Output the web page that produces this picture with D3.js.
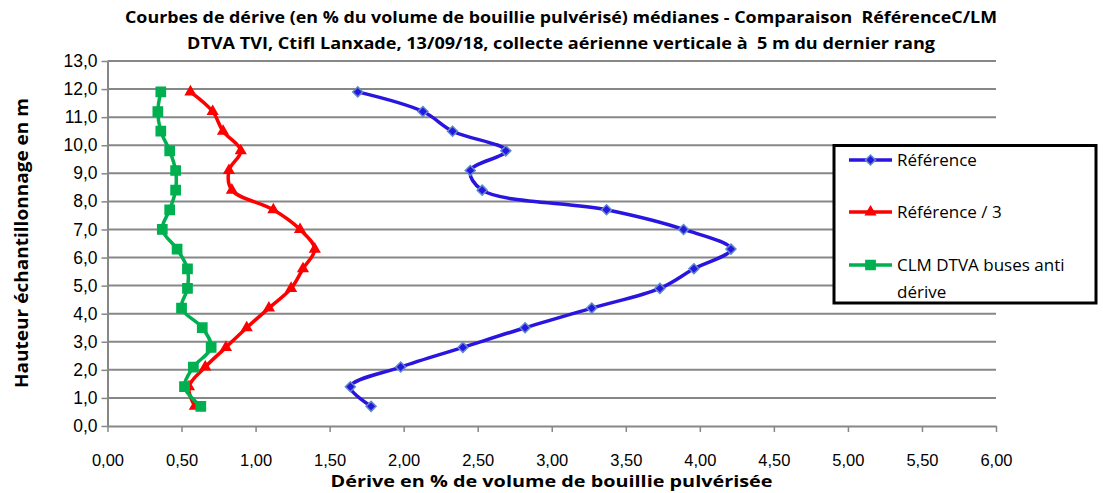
<!DOCTYPE html>
<html>
<head>
<meta charset="utf-8">
<script src="https://cdn.jsdelivr.net/npm/d3@7"></script>
<style>
  body { margin: 0; background: #fff; }
  svg { display: block; font-family: "Open Sans", sans-serif; }
  text { white-space: pre; }
</style>
</head>
<body>
<div id="chart"></div>
<script>
// hauteurs d'echantillonnage (m)
var hauteurs = [0.7, 1.4, 2.1, 2.8, 3.5, 4.2, 4.9, 5.6, 6.3, 7.0, 7.7, 8.4, 9.1, 9.8, 10.5, 11.2, 11.9];

// derive en % du volume pulverise
var reference = [1.78, 1.64, 1.98, 2.40, 2.82, 3.27, 3.73, 3.96, 4.21, 3.89, 3.37, 2.53, 2.45, 2.69, 2.33, 2.13, 1.69];
var referenceTiers = [0.59, 0.55, 0.66, 0.80, 0.94, 1.09, 1.24, 1.32, 1.40, 1.30, 1.12, 0.84, 0.82, 0.90, 0.78, 0.71, 0.56];
var clmDtva = [0.63, 0.52, 0.58, 0.70, 0.64, 0.50, 0.54, 0.54, 0.47, 0.37, 0.42, 0.46, 0.46, 0.42, 0.36, 0.34, 0.36];

var xTicks = [0, 0.5, 1, 1.5, 2, 2.5, 3, 3.5, 4, 4.5, 5, 5.5, 6];
var yTicks = [0, 1, 2, 3, 4, 5, 6, 7, 8, 9, 10, 11, 12, 13];

var titre1 = "Courbes de dérive (en % du volume de bouillie pulvérisé) médianes - Comparaison  RéférenceC/LM";
var titre2 = "DTVA TVI, Ctifl Lanxade, 13/09/18, collecte aérienne verticale à  5 m du dernier rang";
var titreX = "Dérive en % de volume de bouillie pulvérisée";
var titreY = "Hauteur échantillonnage en m";

var series = [
  { nom: "Référence", valeurs: reference, couleur: "#2a14e0", marque: d3.symbolSquare, rot: 45, bord: "#5b8ccc", taille: 50 },
  { nom: "Référence / 3", valeurs: referenceTiers, couleur: "#ff0000", marque: d3.symbolTriangle, rot: 0, bord: "#ff0000", taille: 40 },
  { nom: "CLM DTVA buses anti dérive", valeurs: clmDtva, couleur: "#00b050", marque: d3.symbolSquare, rot: 0, bord: "#00b050", taille: 85 }
];

var W = 1103, H = 493;
var margin = { top: 61, right: 107, bottom: 67, left: 107.5 };

var svg = d3.select("#chart").append("svg")
    .attr("width", W)
    .attr("height", H);

var x = d3.scaleLinear().domain([0, 6]).range([margin.left, W - margin.right]);
var y = d3.scaleLinear().domain([0, 13]).range([H - margin.bottom, margin.top]);

var gris = "#878787";

// grille horizontale
svg.append("g")
    .selectAll("line")
    .data(yTicks.slice(1))
    .join("line")
    .attr("x1", x(0))
    .attr("x2", x(6))
    .attr("y1", function(d) { return y(d); })
    .attr("y2", function(d) { return y(d); })
    .attr("stroke", gris)
    .attr("stroke-width", 2);

// axe x
var gx = svg.append("g")
    .attr("transform", "translate(0," + y(0) + ")")
    .call(d3.axisBottom(x).tickValues(xTicks).tickSize(6).tickSizeOuter(0)
      .tickFormat(function(d) { return d.toFixed(2).replace(".", ","); }));
gx.select(".domain").attr("stroke", gris).attr("stroke-width", 2);
gx.selectAll(".tick line").attr("stroke", gris).attr("stroke-width", 1.5);
gx.selectAll(".tick text")
    .attr("y", 34)
    .attr("dy", "0.35em")
    .attr("fill", "#000")
    .style("font-size", "16.5px");

// axe y
var gy = svg.append("g")
    .attr("transform", "translate(" + x(0) + ",0)")
    .call(d3.axisLeft(y).tickValues(yTicks).tickSize(6).tickSizeOuter(0)
      .tickFormat(function(d) { return d.toFixed(1).replace(".", ","); }));
gy.select(".domain").attr("stroke", gris).attr("stroke-width", 2);
gy.selectAll(".tick line").attr("stroke", gris).attr("stroke-width", 1.5);
gy.selectAll(".tick text")
    .attr("x", -10)
    .attr("fill", "#000")
    .style("font-size", "17.5px");

// courbes
var ligne = d3.line()
    .x(function(d) { return x(d[0]); })
    .y(function(d) { return y(d[1]); })
    .curve(d3.curveCatmullRom.alpha(0.5));

series.forEach(function(s) {
  var pts = s.valeurs.map(function(v, i) { return [v, hauteurs[i]]; });
  svg.append("path")
      .attr("d", ligne(pts))
      .attr("fill", "none")
      .attr("stroke", s.couleur)
      .attr("stroke-width", 3.5)
      .attr("stroke-linejoin", "round");
  svg.append("g")
      .selectAll("path")
      .data(pts)
      .join("path")
      .attr("transform", function(d) { return "translate(" + x(d[0]) + "," + y(d[1]) + ") rotate(" + s.rot + ")"; })
      .attr("d", d3.symbol().type(s.marque).size(s.taille))
      .attr("fill", s.couleur)
      .attr("stroke", s.bord)
      .attr("stroke-width", 1.5);
});

// legende
var leg = svg.append("g");
leg.append("rect")
    .attr("x", 834)
    .attr("y", 145.5)
    .attr("width", 262)
    .attr("height", 157.5)
    .attr("fill", "#fff")
    .attr("stroke", "#000")
    .attr("stroke-width", 3);

var legY = [160, 212, 265];
series.forEach(function(s, i) {
  var g = leg.append("g").attr("transform", "translate(0," + legY[i] + ")");
  g.append("line")
      .attr("x1", 849).attr("x2", 892)
      .attr("stroke", s.couleur)
      .attr("stroke-width", 3.5);
  g.append("path")
      .attr("transform", "translate(870.5,0) rotate(" + s.rot + ")")
      .attr("d", d3.symbol().type(s.marque).size(s.taille))
      .attr("fill", s.couleur)
      .attr("stroke", s.bord)
      .attr("stroke-width", 1.5);
  var t = g.append("text")
      .attr("x", 897)
      .attr("dy", "0.35em")
      .style("font-size", "17px")
      .attr("fill", "#000");
  if (i === 2) {
    t.text("CLM DTVA buses anti");
    g.append("text")
        .attr("x", 897)
        .attr("y", 27)
        .attr("dy", "0.35em")
        .style("font-size", "17px")
        .text("dérive");
  } else {
    t.text(s.nom);
  }
});

// titres
svg.append("text")
    .attr("x", 561).attr("y", 18).attr("dy", "0.35em")
    .attr("text-anchor", "middle")
    .style("font-size", "15.5px").style("font-weight", "bold")
    .attr("textLength", 872).attr("lengthAdjust", "spacingAndGlyphs")
    .text(titre1);
svg.append("text")
    .attr("x", 561).attr("y", 44).attr("dy", "0.35em")
    .attr("text-anchor", "middle")
    .style("font-size", "15.5px").style("font-weight", "bold")
    .attr("textLength", 748).attr("lengthAdjust", "spacingAndGlyphs")
    .text(titre2);
svg.append("text")
    .attr("x", 551.5).attr("y", 481).attr("dy", "0.35em")
    .attr("text-anchor", "middle")
    .style("font-size", "16px").style("font-weight", "bold")
    .attr("textLength", 442).attr("lengthAdjust", "spacingAndGlyphs")
    .text(titreX);
svg.append("text")
    .attr("transform", "translate(22,243) rotate(-90)")
    .attr("dy", "0.35em")
    .attr("text-anchor", "middle")
    .style("font-size", "17.5px").style("font-weight", "bold")
    .attr("textLength", 290).attr("lengthAdjust", "spacingAndGlyphs")
    .text(titreY);
</script>
</body>
</html>
